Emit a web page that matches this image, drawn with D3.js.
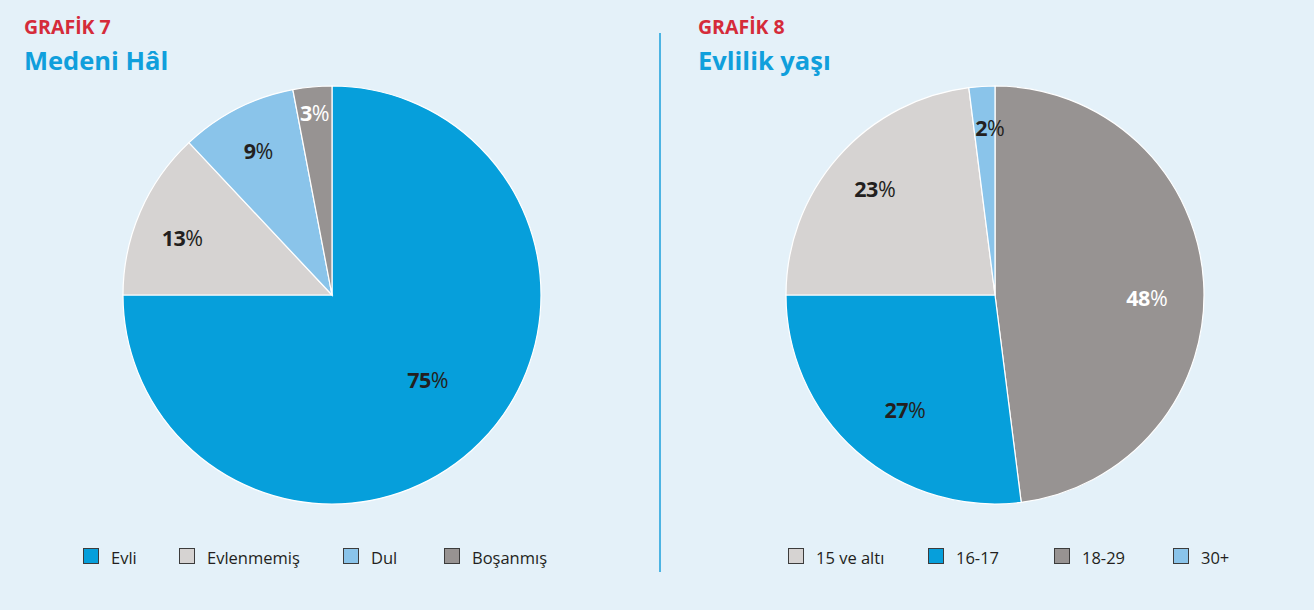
<!DOCTYPE html>
<html>
<head>
<meta charset="utf-8">
<script src="https://cdn.jsdelivr.net/npm/d3@7"></script>
<style>
  html, body { margin: 0; padding: 0; background: #e4f1f9; }
  svg { display: block; font-family: "Open Sans", "Noto Sans", sans-serif; }
</style>
</head>
<body>
<div id="chart"></div>
<script>
// chart data
var maritalLabels = ["Evli", "Evlenmemiş", "Dul", "Boşanmış"];
var maritalValues = [75, 13, 9, 3];
var ageLabels = ["18-29", "16-17", "15 ve altı", "30+"];
var ageValues = [48, 27, 23, 2];
var ageLegendOrder = ["15 ve altı", "16-17", "18-29", "30+"];

// settings
var width = 1314;
var height = 610;
var radius = 209;
var blue = "#069fdb";
var lightGray = "#d6d3d2";
var lightBlue = "#8ac4ea";
var gray = "#979392";
var textDark = "#231f20";

var svg = d3.select("#chart").append("svg")
    .attr("width", width)
    .attr("height", height);

svg.append("rect").attr("width", width).attr("height", height).attr("fill", "#e4f1f9");

// divider
svg.append("line")
    .attr("x1", 660).attr("x2", 660)
    .attr("y1", 33).attr("y2", 572)
    .attr("stroke", "#1a9fdb").attr("stroke-width", 1.5);

function drawPie(opts) {
    var g = svg.append("g");

    g.append("text")
        .attr("x", opts.titleX).attr("y", 34)
        .attr("fill", "#d52b3a")
        .attr("font-size", 19.5).attr("font-weight", "bold")
        .text(opts.kicker);
    g.append("text")
        .attr("x", opts.titleX).attr("y", 70)
        .attr("fill", "#109fdc")
        .attr("font-size", 25.5).attr("font-weight", "bold")
        .text(opts.title);

    var color = d3.scaleOrdinal().domain(opts.labels).range(opts.colors);
    var data = opts.labels.map(function(l, i) {
        return {label: l, value: opts.values[i], lr: opts.labelR[i], shift: opts.labelShift[i]};
    });

    var pie = d3.pie().sort(null).value(function(d) { return d.value; });
    var arc = d3.arc().innerRadius(0).outerRadius(radius);
    var arcs = pie(data);

    var pg = g.append("g").attr("transform", "translate(" + opts.cx + "," + opts.cy + ")");
    pg.selectAll("path")
        .data(arcs)
        .enter().append("path")
        .attr("d", arc)
        .attr("fill", function(d) { return color(d.data.label); })
        .attr("stroke", "#ffffff")
        .attr("stroke-width", 1.2);

    var lbl = pg.selectAll("text.val")
        .data(arcs)
        .enter().append("text")
        .attr("class", "val")
        .attr("transform", function(d) {
            var a = (d.startAngle + d.endAngle) / 2 + d.data.shift * Math.PI / 180;
            var x = Math.sin(a) * d.data.lr;
            var y = -Math.cos(a) * d.data.lr;
            return "translate(" + x + "," + (y + 8) + ")";
        })
        .attr("text-anchor", "middle")
        .attr("font-size", 21.5)
        .attr("fill", function(d) { return color(d.data.label) == gray ? "#ffffff" : textDark; });
    lbl.append("tspan").attr("font-weight", "bold").attr("letter-spacing", -0.5)
        .text(function(d) { return d.data.value; });
    lbl.append("tspan").attr("font-weight", "normal").text("%");

    // legend
    var lg = g.append("g");
    opts.legendOrder.forEach(function(l, i) {
        var x = opts.legendX[i];
        lg.append("rect")
            .attr("x", x + 0.5).attr("y", 548.5)
            .attr("width", 15).attr("height", 15)
            .attr("fill", color(l))
            .attr("stroke", "#3c3c3c").attr("stroke-width", 1);
        lg.append("text")
            .attr("x", x + 28).attr("y", 564)
            .attr("font-size", 16.5)
            .attr("fill", textDark)
            .text(l);
    });
}

drawPie({
    kicker: "GRAFİK 7", title: "Medeni Hâl", titleX: 24,
    cx: 332, cy: 295,
    labels: maritalLabels, values: maritalValues,
    colors: [blue, lightGray, lightBlue, gray],
    labelR: [128, 160, 162, 183],
    labelShift: [-3.5, -2.6, 0, 0],
    legendOrder: maritalLabels,
    legendX: [83, 179, 343, 444]
});

drawPie({
    kicker: "GRAFİK 8", title: "Evlilik yaşı", titleX: 698,
    cx: 995, cy: 295,
    labels: ageLabels, values: ageValues,
    colors: [gray, blue, lightGray, lightBlue],
    labelR: [152, 146, 160, 167],
    labelShift: [4.7, -3.4, 0, 1.9],
    legendOrder: ageLegendOrder,
    legendX: [788, 928, 1054, 1173]
});
</script>
</body>
</html>
